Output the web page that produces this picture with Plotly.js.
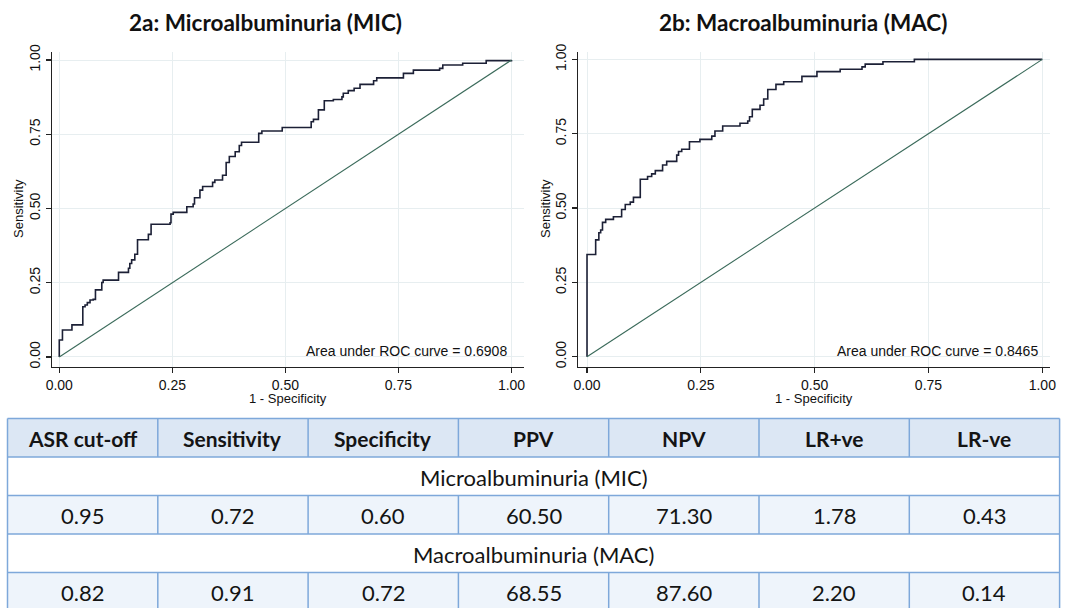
<!DOCTYPE html>
<html>
<head>
<meta charset="utf-8">
<script src="https://cdn.plot.ly/plotly-3.0.1.min.js"></script>
<style>
html,body{margin:0;padding:0;background:#ffffff;}
#chart{width:1070px;height:608px;}
</style>
</head>
<body>
<div id="chart"></div>
<script>
// ---------- DATA ----------
// ROC 2a: Microalbuminuria (MIC): 1 - specificity (x) and sensitivity (y), step vertices
const micFpr = [0, 0, 0, 0.007, 0.028, 0.052, 0.057, 0.062, 0.068, 0.075, 0.080, 0.094, 0.097, 0.131, 0.153, 0.156, 0.160, 0.167, 0.173, 0.197, 0.203, 0.245, 0.247, 0.252, 0.282, 0.296, 0.299, 0.311, 0.317, 0.339, 0.344, 0.361, 0.369, 0.376, 0.389, 0.398, 0.403, 0.441, 0.448, 0.493, 0.557, 0.562, 0.573, 0.586, 0.606, 0.625, 0.628, 0.639, 0.652, 0.665, 0.695, 0.702, 0.761, 0.783, 0.841, 0.848, 0.892, 0.944, 1.0];
const micSens = [0, 0.030, 0.057, 0.091, 0.108, 0.169, 0.175, 0.183, 0.192, 0.194, 0.226, 0.251, 0.259, 0.285, 0.299, 0.315, 0.327, 0.346, 0.395, 0.413, 0.447, 0.452, 0.481, 0.487, 0.506, 0.515, 0.536, 0.562, 0.574, 0.588, 0.596, 0.612, 0.655, 0.675, 0.691, 0.712, 0.723, 0.753, 0.761, 0.773, 0.792, 0.800, 0.832, 0.863, 0.867, 0.876, 0.888, 0.897, 0.905, 0.918, 0.930, 0.940, 0.955, 0.966, 0.972, 0.983, 0.989, 0.998, 1.0];

// ROC 2b: Macroalbuminuria (MAC)
const macFpr = [0, 0, 0.019, 0.026, 0.030, 0.034, 0.041, 0.058, 0.076, 0.084, 0.095, 0.102, 0.117, 0.133, 0.142, 0.150, 0.166, 0.175, 0.197, 0.201, 0.208, 0.225, 0.248, 0.274, 0.281, 0.298, 0.336, 0.353, 0.357, 0.363, 0.380, 0.388, 0.397, 0.415, 0.432, 0.472, 0.505, 0.556, 0.604, 0.611, 0.650, 0.719, 1.0];
const macSens = [0, 0.344, 0.393, 0.417, 0.426, 0.452, 0.462, 0.471, 0.495, 0.512, 0.520, 0.536, 0.597, 0.606, 0.615, 0.626, 0.645, 0.657, 0.678, 0.690, 0.698, 0.723, 0.731, 0.742, 0.759, 0.776, 0.785, 0.793, 0.807, 0.832, 0.846, 0.867, 0.899, 0.916, 0.925, 0.943, 0.959, 0.967, 0.975, 0.984, 0.992, 1.0, 1.0];

const refLine = [0, 1];
const aucValues = [0.6908, 0.8465];
const chartTitles = ['2a: Microalbuminuria (MIC)', '2b: Macroalbuminuria (MAC)'];
const tickVals = [0, 0.25, 0.5, 0.75, 1];

// Table
const tableHeaders = ['ASR cut-off', 'Sensitivity', 'Specificity', 'PPV', 'NPV', 'LR+ve', 'LR-ve'];
const groupLabels = ['Microalbuminuria (MIC)', 'Macroalbuminuria (MAC)'];
const micRow = [0.95, 0.72, 0.60, 60.50, 71.30, 1.78, 0.43];
const macRow = [0.82, 0.91, 0.72, 68.55, 87.60, 2.20, 0.14];

// ---------- LAYOUT HELPERS ----------
const W = 1070, H = 608;
const px = x => x / W;
const py = y => 1 - y / H;

const curveColor = '#1c2036';
const diagColor = '#3a6a5a';
const gridColor = '#e7eef0';
const axisColor = '#222222';
const tickFont = {family: 'Liberation Sans, Arial, sans-serif', size: 14, color: '#111'};
const titleFont = {family: 'Liberation Sans, Arial, sans-serif', size: 13, color: '#111'};

const traces = [
  {x: micFpr, y: micSens, type: 'scatter', mode: 'lines', line: {shape: 'hv', color: curveColor, width: 1.6}, xaxis: 'x', yaxis: 'y', hoverinfo: 'skip'},
  {x: refLine, y: refLine, type: 'scatter', mode: 'lines', line: {color: diagColor, width: 1.1}, xaxis: 'x', yaxis: 'y', hoverinfo: 'skip'},
  {x: macFpr, y: macSens, type: 'scatter', mode: 'lines', line: {shape: 'hv', color: curveColor, width: 1.6}, xaxis: 'x2', yaxis: 'y2', hoverinfo: 'skip'},
  {x: refLine, y: refLine, type: 'scatter', mode: 'lines', line: {color: diagColor, width: 1.1}, xaxis: 'x2', yaxis: 'y2', hoverinfo: 'skip'}
];

function axisBase(extra) {
  return Object.assign({
    tickvals: tickVals, tickformat: '.2f', showgrid: true, gridcolor: gridColor, gridwidth: 1,
    zeroline: false, showline: true, linecolor: axisColor, linewidth: 1.3, ticks: 'outside',
    ticklen: 5, tickwidth: 1.2, tickcolor: axisColor, tickfont: tickFont, fixedrange: true, automargin: false
  }, extra);
}

const plotTop = 52, plotBottom = 367;
const layout = {
  width: W, height: H,
  margin: {l: 0, r: 0, t: 0, b: 0},
  paper_bgcolor: '#ffffff', plot_bgcolor: '#ffffff',
  showlegend: false,
  xaxis: axisBase({domain: [px(52), px(524)], range: [-0.0161, 1.0276], anchor: 'y'}),
  yaxis: axisBase({domain: [py(plotBottom), py(plotTop)], range: [-0.0337, 1.027], anchor: 'x', tickangle: -90}),
  xaxis2: axisBase({domain: [px(578), px(1050)], range: [-0.0198, 1.0169], anchor: 'y2'}),
  yaxis2: axisBase({domain: [py(plotBottom), py(plotTop)], range: [-0.0346, 1.0249], anchor: 'x2', tickangle: -90}),
  shapes: [],
  annotations: []
};

const ann = layout.annotations;
const titleCenters = [265, 803];
const xTitleCenters = [288, 814];
const yTitleX = [18, 545];
const axisSuffix = ['', '2'];
chartTitles.forEach((t, i) => {
  ann.push({text: '<b>' + t + '</b>', xref: 'paper', yref: 'paper', x: px(titleCenters[i]), y: py(23),
    xanchor: 'center', yanchor: 'middle', showarrow: false,
    font: {family: 'Lato, "Open Sans", sans-serif', size: 22.5, color: '#111'}});
  ann.push({text: '1 - Specificity', xref: 'paper', yref: 'paper', x: px(xTitleCenters[i]), y: py(398),
    xanchor: 'center', yanchor: 'middle', showarrow: false, font: titleFont});
  ann.push({text: 'Sensitivity', xref: 'paper', yref: 'paper', x: px(yTitleX[i]), y: py(209),
    xanchor: 'center', yanchor: 'middle', showarrow: false, textangle: -90, font: titleFont});
  ann.push({text: 'Area under ROC curve = ' + aucValues[i].toFixed(4), xref: 'x' + axisSuffix[i], yref: 'y' + axisSuffix[i],
    x: 0.995, y: 0.02, xanchor: 'right', yanchor: 'middle', showarrow: false,
    font: {family: 'Liberation Sans, Arial, sans-serif', size: 14, color: '#111'}});
});

// ---------- TABLE ----------
const colX0 = 7.5, colW = 150.3, nCols = tableHeaders.length;
const colEdge = i => colX0 + i * colW;
const rowEdges = [418.5, 457, 495.5, 534, 572.5, 611];
const rowFills = ['#dce7f4', '#ffffff', '#eef4fb', '#ffffff', '#eef4fb'];
const borderColor = '#7ea8da';
const tableX1 = colEdge(nCols);

rowFills.forEach((f, r) => {
  layout.shapes.push({type: 'rect', xref: 'paper', yref: 'paper', layer: 'below',
    x0: px(colX0), x1: px(tableX1), y0: py(rowEdges[r + 1]), y1: py(rowEdges[r]),
    fillcolor: f, line: {width: 0}});
});
// horizontal borders
rowEdges.forEach(y => {
  layout.shapes.push({type: 'line', xref: 'paper', yref: 'paper', x0: px(colX0), x1: px(tableX1), y0: py(y), y1: py(y),
    line: {color: borderColor, width: 1.5}});
});
// vertical borders: outer on all rows, inner on header/value rows
const cellRows = [0, 2, 4];
for (let c = 0; c <= nCols; c++) {
  if (c === 0 || c === nCols) {
    layout.shapes.push({type: 'line', xref: 'paper', yref: 'paper', x0: px(colEdge(c)), x1: px(colEdge(c)),
      y0: py(rowEdges[rowEdges.length - 1]), y1: py(rowEdges[0]), line: {color: borderColor, width: 1.5}});
  } else {
    cellRows.forEach(r => {
      layout.shapes.push({type: 'line', xref: 'paper', yref: 'paper', x0: px(colEdge(c)), x1: px(colEdge(c)),
        y0: py(rowEdges[r + 1]), y1: py(rowEdges[r]), line: {color: borderColor, width: 1.5}});
    });
  }
}
const rowMid = r => (rowEdges[r] + rowEdges[r + 1]) / 2 + 1;
const cellFont = {family: 'Lato, "Open Sans", sans-serif', size: 22, color: '#141414'};
tableHeaders.forEach((h, c) => {
  ann.push({text: '<b>' + h + '</b>', xref: 'paper', yref: 'paper', x: px(colEdge(c) + colW / 2), y: py(rowMid(0)),
    xanchor: 'center', yanchor: 'middle', showarrow: false,
    font: {family: 'Lato, "Open Sans", sans-serif', size: 21, color: '#141414'}});
});
[micRow, macRow].forEach((row, g) => {
  ann.push({text: groupLabels[g], xref: 'paper', yref: 'paper', x: px((colX0 + tableX1) / 2), y: py(rowMid(1 + 2 * g)),
    xanchor: 'center', yanchor: 'middle', showarrow: false, font: cellFont});
  row.forEach((v, c) => {
    ann.push({text: v.toFixed(2), xref: 'paper', yref: 'paper', x: px(colEdge(c) + colW / 2), y: py(rowMid(2 + 2 * g)),
      xanchor: 'center', yanchor: 'middle', showarrow: false, font: cellFont});
  });
});

Plotly.newPlot('chart', traces, layout, {staticPlot: true, displayModeBar: false});
</script>
</body>
</html>
